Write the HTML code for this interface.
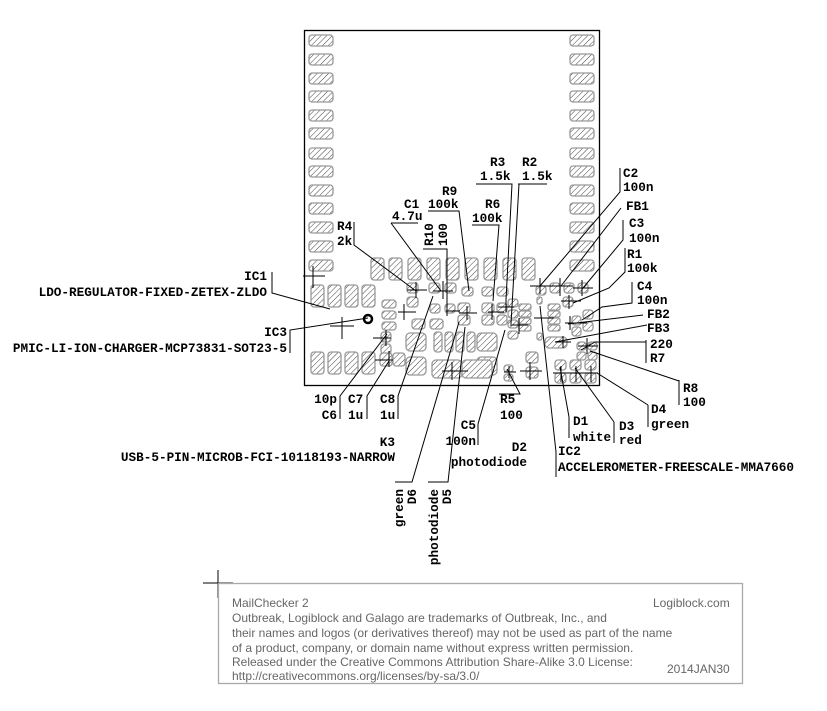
<!DOCTYPE html>
<html><head><meta charset="utf-8"><style>
body{margin:0;background:#fff}
svg text{font-family:"Liberation Mono",monospace;font-weight:bold;font-size:12.7px;fill:#000}
.e{text-anchor:end}
.f{font-family:"Liberation Sans",sans-serif;font-weight:normal;font-size:12px;fill:#666}
</style></head><body>
<svg width="827" height="706" viewBox="0 0 827 706" xmlns="http://www.w3.org/2000/svg">
<defs>
<pattern id="h" width="4" height="4" patternUnits="userSpaceOnUse" patternTransform="rotate(45)">
<rect width="4" height="4" fill="#fff"/><line x1="0" y1="0" x2="0" y2="4" stroke="#444" stroke-width="1"/>
</pattern>
</defs>
<g fill="url(#h)" stroke="#999" stroke-width="1.3">
<g id="col">
<rect x="309" y="35" width="24" height="11" rx="3"/><rect x="309" y="54" width="24" height="11" rx="3"/>
<rect x="309" y="73" width="24" height="11" rx="3"/><rect x="309" y="91" width="24" height="11" rx="3"/>
<rect x="309" y="110" width="24" height="11" rx="3"/><rect x="309" y="128" width="24" height="11" rx="3"/>
<rect x="309" y="148" width="24" height="11" rx="3"/><rect x="309" y="166" width="24" height="11" rx="3"/>
<rect x="309" y="185" width="24" height="11" rx="3"/><rect x="309" y="203" width="24" height="11" rx="3"/>
<rect x="309" y="222" width="24" height="11" rx="3"/><rect x="309" y="241" width="24" height="11" rx="3"/>
<rect x="309" y="260" width="24" height="11" rx="3"/>
</g>
<use href="#col" x="261"/>
<rect x="311" y="285" width="13" height="22" rx="3"/><rect x="328" y="285" width="13" height="22" rx="3"/>
<rect x="345" y="285" width="13" height="22" rx="3"/><rect x="362" y="285" width="13" height="22" rx="3"/>
<rect x="311" y="352" width="13" height="22" rx="3"/><rect x="328" y="352" width="13" height="22" rx="3"/>
<rect x="345" y="352" width="13" height="22" rx="3"/><rect x="362" y="352" width="13" height="22" rx="3"/>
<rect x="371" y="258" width="13" height="22" rx="3"/><rect x="389" y="258" width="13" height="22" rx="3"/>
<rect x="408" y="258" width="13" height="22" rx="3"/><rect x="427" y="258" width="13" height="22" rx="3"/>
<rect x="446" y="258" width="13" height="22" rx="3"/><rect x="465" y="258" width="13" height="22" rx="3"/>
<rect x="484" y="258" width="13" height="22" rx="3"/><rect x="503" y="258" width="13" height="22" rx="3"/>
<rect x="522" y="258" width="13" height="22" rx="3"/>
<rect x="407" y="283" width="11" height="10" rx="3"/><rect x="407" y="297" width="11" height="10" rx="3"/>
<rect x="429" y="283" width="11" height="10" rx="3"/><rect x="445" y="283" width="11" height="10" rx="3"/>
<rect x="462" y="287" width="11" height="9" rx="3"/><rect x="482" y="287" width="11" height="9" rx="3"/>
<rect x="497" y="287" width="11" height="9" rx="3"/>
<rect x="430" y="304" width="10" height="9" rx="3"/><rect x="445" y="304" width="10" height="9" rx="3"/>
<rect x="382" y="300" width="14" height="8" rx="3"/><rect x="382" y="311" width="14" height="8" rx="3"/>
<rect x="382" y="322" width="14" height="8" rx="3"/>
<rect x="381" y="332" width="10" height="10" rx="3"/><rect x="381" y="344" width="10" height="10" rx="3"/>
<rect x="412" y="319" width="13" height="10" rx="3"/><rect x="430" y="319" width="13" height="10" rx="3"/>
<rect x="458" y="303" width="12" height="10" rx="3"/><rect x="458" y="315" width="12" height="10" rx="3"/>
<rect x="482" y="303" width="12" height="10" rx="3"/><rect x="482" y="315" width="12" height="10" rx="3"/>
<rect x="497" y="303" width="10" height="10" rx="3"/><rect x="497" y="315" width="10" height="10" rx="3"/>
<rect x="508" y="299" width="10" height="8" rx="3"/><rect x="508" y="310" width="10" height="8" rx="3"/>
<rect x="508" y="320" width="10" height="8" rx="3"/><rect x="508" y="331" width="10" height="8" rx="3"/>
<rect x="519" y="304" width="12" height="6" rx="2"/><rect x="519" y="311" width="12" height="6" rx="2"/>
<rect x="519" y="318" width="12" height="6" rx="2"/><rect x="519" y="325" width="12" height="6" rx="2"/>
<rect x="548" y="304" width="12" height="6" rx="2"/><rect x="548" y="311" width="12" height="6" rx="2"/>
<rect x="548" y="318" width="12" height="6" rx="2"/><rect x="548" y="325" width="12" height="6" rx="2"/>
<rect x="537" y="297" width="5" height="7" rx="2"/><rect x="537" y="333" width="5" height="7" rx="2"/>
<rect x="572" y="316" width="9" height="9" rx="3"/><rect x="572" y="327" width="9" height="9" rx="3"/>
<rect x="583" y="310" width="10" height="9" rx="3"/><rect x="583" y="322" width="10" height="9" rx="3"/>
<rect x="536" y="286" width="10" height="9" rx="3"/><rect x="550" y="283" width="10" height="10" rx="3"/>
<rect x="564" y="283" width="10" height="10" rx="3"/><rect x="578" y="283" width="10" height="10" rx="3"/>
<rect x="563" y="297" width="10" height="10" rx="3"/>
<rect x="545" y="337" width="22" height="11" rx="4"/>
<rect x="577" y="342" width="9" height="8" rx="3"/><rect x="588" y="342" width="9" height="8" rx="3"/>
<rect x="577" y="352" width="9" height="8" rx="3"/><rect x="588" y="352" width="9" height="8" rx="3"/>
<rect x="406" y="333" width="20" height="18" rx="4"/><rect x="406" y="357" width="20" height="18" rx="4"/>
<rect x="434" y="332" width="8" height="20" rx="3"/><rect x="445" y="332" width="8" height="20" rx="3"/>
<rect x="456" y="332" width="8" height="20" rx="3"/><rect x="467" y="332" width="8" height="20" rx="3"/>
<rect x="477" y="333" width="20" height="18" rx="4"/><rect x="477" y="357" width="20" height="18" rx="4"/>
<rect x="432" y="360" width="30" height="18" rx="4"/><rect x="462" y="360" width="30" height="18" rx="4"/>
<rect x="380" y="353" width="12" height="13" rx="3"/><rect x="393" y="353" width="12" height="13" rx="3"/>
<rect x="504" y="365" width="9" height="7" rx="3"/><rect x="504" y="374" width="9" height="7" rx="3"/>
<rect x="526" y="352" width="12" height="11" rx="3"/><rect x="526" y="367" width="12" height="11" rx="3"/>
<rect x="555" y="360" width="11" height="10" rx="3"/><rect x="555" y="373" width="11" height="10" rx="3"/>
<rect x="570" y="360" width="11" height="10" rx="3"/><rect x="570" y="373" width="11" height="10" rx="3"/>
<rect x="585" y="360" width="11" height="10" rx="3"/><rect x="585" y="373" width="11" height="10" rx="3"/>
</g>
<rect x="304.5" y="30.5" width="295" height="355" fill="none" stroke="#000" stroke-width="1.3"/>
<circle cx="368" cy="319" r="4" fill="none" stroke="#000" stroke-width="2.5"/>
<g stroke="#000" stroke-width="1" fill="none">
<path d="M303 276h22M313 266v22M330 326h24M342 317v22M402 312h14M404 304v16M407 290h20M416 282v16M433 291h20M443 281v18M446 311h14M447 306v10M459 313h18M467 306v14M488 312h16M492 304v16M498 307h16M506 300v12M510 325h18M519 318v16M530 286h22M540 278v16M551 286h22M560 278v18M573 288h20M582 280v16M561 301h20M569 295v14M565 323h22M570 316v14M578 346h20M587 338v16M555 342h16M563 336v12M373 338h18M386 330v16M375 360h18M389 351v16M442 371h26M452 362v18M504 372h12M509 366v12M520 371h22M530 362v18M553 373h45M561 366v16M576 366v16M591 366v16M398 312h14M534 318h20"/>
<path d="M272 272v21l58 16M290 353v-23l78 -12M340 419v-23l47 -62M367 419v-23l22 -35M398 419v-23l35 -100M478 445v-21l27 -94M499 394h21l-13 -25M395 482h17l47 -160M428 482h20l17 -155"/>
<path d="M354 222v23l62 46M391 223h27M391 223l50 68M428 211h31l10 80M472 225h27l-6 76M476 184h36l-6 116M518 184h29M519 184l-8 140M423 249h24v60"/>
<path d="M620 168v24l-80 94M621 208l-60 78M623 220v20l-40 48M625 248v24l-16 16l-36 15M632 282v21l-30 4l-20 13M643 315l-75 9M647 325l-92 17M646 340v23M646 342h-51l-14 8M679 380v25M679 381l-89 -30M648 405v22M648 405l-51 -32M614 422v21M614 422l-39 -54M569 417v21M569 417l-9 -50M556 452v25M556 452l-16 -146"/>
</g>
<text x="490" y="166">R3</text><text x="522" y="166">R2</text>
<text x="480" y="180">1.5k</text><text x="522" y="180">1.5k</text>
<text x="442" y="195">R9</text><text x="485" y="208">R6</text>
<text x="428" y="208">100k</text><text x="472" y="222">100k</text>
<text x="404" y="208">C1</text><text x="392" y="220">4.7u</text>
<text x="337" y="230">R4</text><text x="337" y="245">2k</text>
<text transform="translate(433,246) rotate(-90)">R10</text>
<text transform="translate(447,246) rotate(-90)">100</text>
<text x="623" y="177">C2</text><text x="623" y="191">100n</text>
<text x="626" y="210">FB1</text>
<text x="629" y="227">C3</text><text x="629" y="242">100n</text>
<text x="627" y="258">R1</text><text x="627" y="272">100k</text>
<text x="637" y="290">C4</text><text x="637" y="304">100n</text>
<text x="647" y="318">FB2</text><text x="647" y="332">FB3</text>
<text x="650" y="348">220</text><text x="650" y="362">R7</text>
<text x="683" y="392">R8</text><text x="683" y="406">100</text>
<text class="e" x="267" y="280">IC1</text>
<text class="e" x="267" y="296">LDO-REGULATOR-FIXED-ZETEX-ZLDO</text>
<text class="e" x="287" y="336">IC3</text>
<text class="e" x="287" y="352">PMIC-LI-ION-CHARGER-MCP73831-SOT23-5</text>
<text class="e" x="337" y="403">10p</text><text class="e" x="337" y="419">C6</text>
<text x="348" y="403">C7</text><text x="348" y="419">1u</text>
<text x="380" y="403">C8</text><text x="380" y="419">1u</text>
<text class="e" x="395" y="446">K3</text>
<text class="e" x="395" y="461">USB-5-PIN-MICROB-FCI-10118193-NARROW</text>
<text x="500" y="403">R5</text><text x="500" y="419">100</text>
<text class="e" x="476" y="429">C5</text><text class="e" x="476" y="445">100n</text>
<text class="e" x="527" y="451">D2</text>
<text class="e" x="527" y="466">photodiode</text>
<text x="573" y="425">D1</text><text x="573" y="441">white</text>
<text x="619" y="430">D3</text><text x="619" y="444">red</text>
<text x="651" y="413">D4</text><text x="651" y="428">green</text>
<text x="558" y="455">IC2</text>
<text x="558" y="471">ACCELEROMETER-FREESCALE-MMA7660</text>
<text class="e" transform="translate(403,489) rotate(-90)">green</text>
<text class="e" transform="translate(416,489) rotate(-90)">D6</text>
<text class="e" transform="translate(438,489) rotate(-90)">photodiode</text>
<text class="e" transform="translate(451,489) rotate(-90)">D5</text>
<path d="M203 583h30M218 570v28" stroke="#000" stroke-width="1"/>
<rect x="218.5" y="583.5" width="524" height="100" fill="none" stroke="#aaa" stroke-width="1.3"/>
<text class="f" x="232" y="607">MailChecker 2</text>
<text class="f" x="653" y="607">Logiblock.com</text>
<text class="f" x="232" y="622">Outbreak, Logiblock and Galago are trademarks of Outbreak, Inc., and</text>
<text class="f" x="232" y="637">their names and logos (or derivatives thereof) may not be used as part of the name</text>
<text class="f" x="232" y="652">of a product, company, or domain name without express written permission.</text>
<text class="f" x="232" y="666">Released under the Creative Commons Attribution Share-Alike 3.0 License:</text>
<text class="f" x="232" y="680">http://creativecommons.org/licenses/by-sa/3.0/</text>
<text class="f" x="667" y="673">2014JAN30</text>
</svg>
</body></html>
